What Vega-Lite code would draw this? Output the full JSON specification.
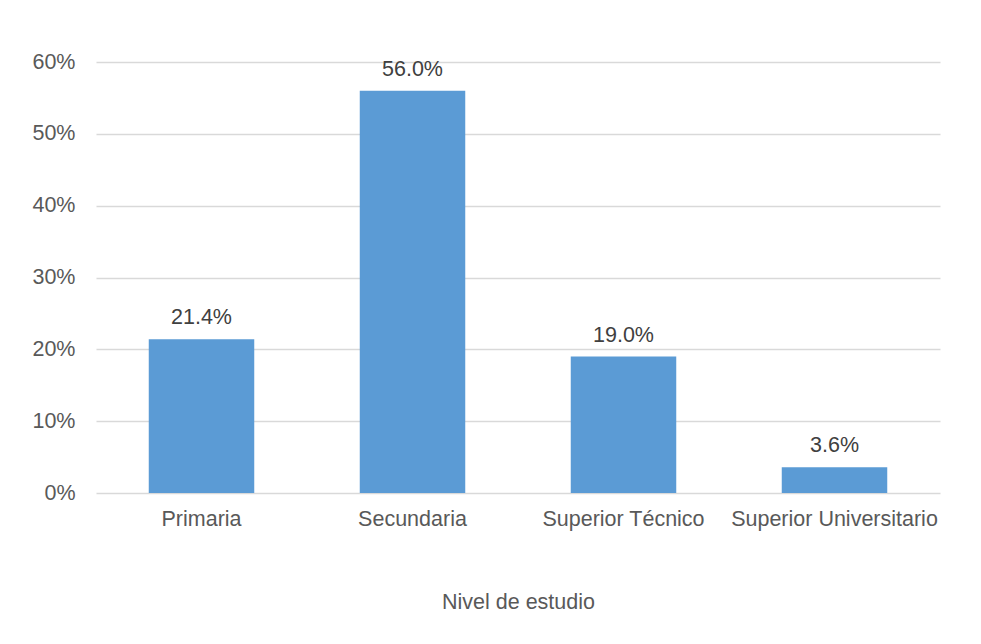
{
  "$schema": "https://vega.github.io/schema/vega-lite/v6.json",
  "width": 844,
  "height": 431,
  "autosize": "none",
  "padding": {"left": 96, "top": 62, "right": 41, "bottom": 151},
  "background": "white",
  "config": {
    "view": {"stroke": null},
    "font": "Liberation Sans"
  },
  "data": {
    "values": [
      {"nivel": "Primaria", "pct": 0.214},
      {"nivel": "Secundaria", "pct": 0.56},
      {"nivel": "Superior Técnico", "pct": 0.19},
      {"nivel": "Superior Universitario", "pct": 0.036}
    ]
  },
  "encoding": {
    "x": {
      "field": "nivel",
      "type": "nominal",
      "sort": null,
      "scale": {"paddingInner": 0.5, "paddingOuter": 0.25},
      "axis": {
        "title": "Nivel de estudio",
        "titleFont": "Liberation Sans",
        "titleFontSize": 21.5,
        "titleFontWeight": "normal",
        "titleColor": "#595959",
        "titlePadding": 62,
        "labelAngle": 0,
        "labelFont": "Liberation Sans",
        "labelFontSize": 21.5,
        "labelColor": "#595959",
        "labelPadding": 15,
        "labelLimit": 0,
        "ticks": false,
        "domain": false,
        "grid": false
      }
    },
    "y": {
      "field": "pct",
      "type": "quantitative",
      "scale": {"domain": [0, 0.6]},
      "axis": {
        "title": null,
        "format": ".0%",
        "values": [0, 0.1, 0.2, 0.3, 0.4, 0.5, 0.6],
        "labelFont": "Liberation Sans",
        "labelFontSize": 21.5,
        "labelColor": "#595959",
        "labelPadding": 21,
        "ticks": false,
        "domain": false,
        "grid": true,
        "gridColor": "#d9d9d9",
        "gridWidth": 1.3
      }
    }
  },
  "layer": [
    {"mark": {"type": "bar", "color": "#5b9bd5"}},
    {
      "mark": {"type": "text", "baseline": "alphabetic", "dy": -15, "fontSize": 21.5, "color": "#404040", "font": "Liberation Sans"},
      "encoding": {"text": {"field": "pct", "type": "quantitative", "format": ".1%"}}
    }
  ]
}
